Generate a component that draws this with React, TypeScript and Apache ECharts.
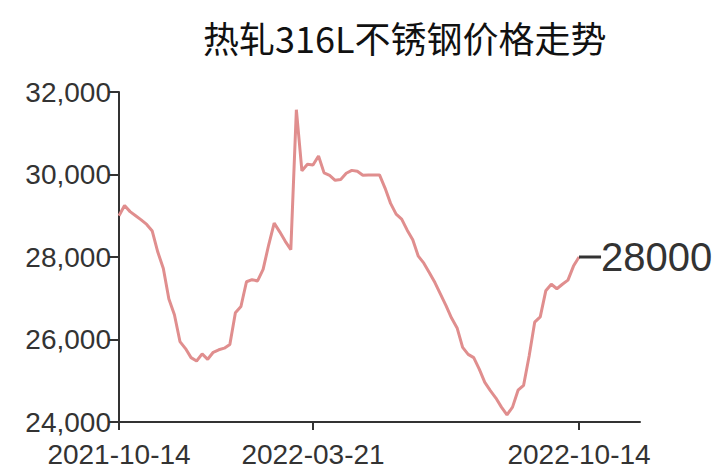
import React, { useEffect, useRef } from "react";
import * as echarts from "echarts";

const TITLE = "热轧316L不锈钢价格走势";

const dates: string[] = [
  "2021-10-14", "2021-10-19", "2021-10-22", "2021-10-27", "2021-11-01", "2021-11-04",
  "2021-11-09", "2021-11-12", "2021-11-17", "2021-11-22", "2021-11-25", "2021-11-30",
  "2021-12-03", "2021-12-08", "2021-12-13", "2021-12-16", "2021-12-21", "2021-12-24",
  "2021-12-29", "2022-01-04", "2022-01-07", "2022-01-12", "2022-01-17", "2022-01-20",
  "2022-01-25", "2022-01-28", "2022-02-08", "2022-02-11", "2022-02-16", "2022-02-21",
  "2022-02-24", "2022-03-01", "2022-03-04", "2022-03-09", "2022-03-15", "2022-03-21",
  "2022-03-24", "2022-03-29", "2022-04-01", "2022-04-07", "2022-04-12", "2022-04-15",
  "2022-04-20", "2022-04-25", "2022-04-28", "2022-05-05", "2022-05-10", "2022-05-13",
  "2022-05-18", "2022-05-23", "2022-05-26", "2022-05-31", "2022-06-06", "2022-06-09",
  "2022-06-14", "2022-06-17", "2022-06-22", "2022-06-27", "2022-06-30", "2022-07-05",
  "2022-07-08", "2022-07-13", "2022-07-18", "2022-07-21", "2022-07-26", "2022-07-29",
  "2022-08-03", "2022-08-08", "2022-08-11", "2022-08-16", "2022-08-19", "2022-08-24",
  "2022-08-29", "2022-09-01", "2022-09-06", "2022-09-09", "2022-09-15", "2022-09-20",
  "2022-09-23", "2022-09-28", "2022-09-29", "2022-10-10", "2022-10-12", "2022-10-14",
  "2022-10-19", "2022-10-24", "2022-10-27", "2022-11-01", "2022-11-04", "2022-11-09",
  "2022-11-14", "2022-11-17", "2022-11-22", "2022-11-25", "2022-11-30",
];

const prices: number[] = [
  29000, 29250, 29100, 29000, 28900, 28790, 28630, 28120, 27720, 26980,
  26600, 25950, 25780, 25560, 25480, 25650, 25520, 25690, 25750, 25790,
  25880, 26650, 26800, 27400, 27450, 27420, 27700, 28290, 28820, 28610,
  28380, 28180, 31570, 30090, 30250, 30230, 30450, 30040, 29980, 29860,
  29880, 30030, 30100, 30080, 29980, 29990, 29990, 29990, 29670, 29300,
  29040, 28920, 28650, 28420, 28020, 27850, 27620, 27380, 27100, 26820,
  26520, 26280, 25810, 25640, 25560, 25280, 24960, 24760, 24580, 24360,
  24170, 24360, 24770, 24890, 25600, 26420, 26550, 27180, 27340, 27230,
  27340, 27440, 27780, 28000,
];

const labelDates: string[] = ["2021-10-14", "2022-03-21", "2022-10-14"];

const yMin = 24000;
const yMax = 32000;
const yStep = 2000;

export default function App() {
  const ref = useRef<HTMLDivElement>(null);

  useEffect(() => {
    if (!ref.current) return;
    const chart = echarts.init(ref.current, null, { renderer: "svg" });
    const axisColor = "#333";
    const font = "Liberation Sans, Arial, sans-serif";
    const showAt = (_i: number, v: string) => labelDates.includes(v);
    chart.setOption({
      animation: false,
      backgroundColor: "#fff",
      title: {
        text: TITLE,
        left: 198,
        top: 14,
        textStyle: {
          fontFamily: "Noto Sans CJK SC",
          fontSize: 36,
          fontWeight: "normal",
          color: "#111",
        },
      },
      grid: { left: 119, right: 80, top: 92, bottom: 39 },
      xAxis: {
        type: "category",
        data: dates,
        boundaryGap: false,
        axisLine: { show: true, lineStyle: { color: axisColor, width: 2 } },
        axisTick: { show: true, interval: showAt, length: 8, lineStyle: { color: axisColor, width: 2 } },
        axisLabel: {
          interval: showAt,
          margin: 18,
          fontSize: 28,
          fontFamily: font,
          color: axisColor,
        },
        splitLine: { show: false },
      },
      yAxis: {
        type: "value",
        min: yMin,
        max: yMax,
        interval: yStep,
        axisLine: { show: true, lineStyle: { color: axisColor, width: 2 } },
        axisTick: { show: true, length: 11, lineStyle: { color: axisColor, width: 2 } },
        axisLabel: {
          margin: 8,
          fontSize: 28,
          fontFamily: font,
          color: axisColor,
          formatter: (v: number) => v.toLocaleString("en-US"),
        },
        splitLine: { show: false },
      },
      series: [
        {
          type: "line",
          data: prices,
          showSymbol: false,
          smooth: false,
          lineStyle: { color: "#e08e8e", width: 3 },
          itemStyle: { color: "#e08e8e" },
          endLabel: {
            show: true,
            distance: 0,
            formatter: (p: any) => "{d|}{v|" + p.value + "}",
            rich: {
              d: { width: 22, height: 3, backgroundColor: axisColor },
              v: { fontSize: 40, fontFamily: font, color: axisColor },
            },
          },
        },
      ],
    });
    return () => chart.dispose();
  }, []);

  return <div ref={ref} style={{ width: 720, height: 468, position: "absolute", left: 0, top: 0 }} />;
}
